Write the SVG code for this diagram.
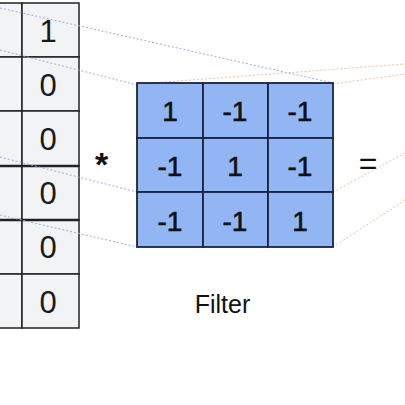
<svg xmlns="http://www.w3.org/2000/svg" width="405" height="405" viewBox="0 0 405 405">
<style>
.lc{fill:#f1f3f4;stroke:#222;stroke-width:1.5}
.fc{fill:#92b6f4;stroke:#1a2440;stroke-width:1.8}
.n{font-family:"Liberation Sans",Arial,sans-serif;font-size:31px;fill:#1a1a1a;text-anchor:middle}
.f{font-family:"Liberation Sans",Arial,sans-serif;font-size:28px;fill:#111;text-anchor:middle;stroke:#111;stroke-width:0.6}
.t{font-family:"Liberation Sans",Arial,sans-serif;fill:#111;text-anchor:middle}
.bl{stroke:#98afe4;stroke-width:1;stroke-dasharray:2 2;fill:none}
.or{stroke:#f1bf9a;stroke-width:1;stroke-dasharray:2 2;fill:none}
</style>
<rect width="405" height="405" fill="#fff"/>
<g id="input">
<rect class="lc" x="-10" y="3" width="32" height="54"/>
<rect class="lc" x="-10" y="57" width="32" height="54"/>
<rect class="lc" x="-10" y="111" width="32" height="55"/>
<rect class="lc" x="-10" y="166" width="32" height="54"/>
<rect class="lc" x="-10" y="220" width="32" height="54"/>
<rect class="lc" x="-10" y="274" width="32" height="54"/>
<rect class="lc" x="22" y="3" width="57" height="54"/>
<rect class="lc" x="22" y="57" width="57" height="54"/>
<rect class="lc" x="22" y="111" width="57" height="55"/>
<rect class="lc" x="22" y="166" width="57" height="54"/>
<rect class="lc" x="22" y="220" width="57" height="54"/>
<rect class="lc" x="22" y="274" width="57" height="54"/>
<line x1="0" y1="166" x2="79" y2="166" stroke="#222" stroke-width="2.5"/>
<line x1="0" y1="220" x2="79" y2="220" stroke="#222" stroke-width="2.5"/>
<text class="n" x="48" y="42">1</text>
<text class="n" x="48" y="96">0</text>
<text class="n" x="48" y="150">0</text>
<text class="n" x="48" y="204">0</text>
<text class="n" x="48" y="258">0</text>
<text class="n" x="48" y="313">0</text>
</g>
<g id="connectors">
<line class="bl" x1="0" y1="8" x2="333" y2="83"/>
<line class="bl" x1="0" y1="50" x2="137" y2="85"/>
<line class="bl" x1="0" y1="157" x2="137" y2="192"/>
<line class="bl" x1="0" y1="215" x2="137" y2="247"/>
<line class="or" x1="137" y1="84" x2="405" y2="64"/>
<line class="or" x1="333" y1="84" x2="405" y2="74"/>
<line class="or" x1="333" y1="192" x2="405" y2="153"/>
<line class="or" x1="333" y1="247" x2="405" y2="200"/>
</g>
<g id="filter">
<rect class="fc" x="137" y="83" width="66" height="55"/>
<rect class="fc" x="203" y="83" width="65" height="55"/>
<rect class="fc" x="268" y="83" width="65" height="55"/>
<rect class="fc" x="137" y="138" width="66" height="54"/>
<rect class="fc" x="203" y="138" width="65" height="54"/>
<rect class="fc" x="268" y="138" width="65" height="54"/>
<rect class="fc" x="137" y="192" width="66" height="55"/>
<rect class="fc" x="203" y="192" width="65" height="55"/>
<rect class="fc" x="268" y="192" width="65" height="55"/>
<text class="f" x="170" y="121">1</text>
<text class="f" x="235" y="121">-1</text>
<text class="f" x="300" y="121">-1</text>
<text class="f" x="170" y="176">-1</text>
<text class="f" x="235" y="176">1</text>
<text class="f" x="300" y="176">-1</text>
<text class="f" x="170" y="231">-1</text>
<text class="f" x="235" y="231">-1</text>
<text class="f" x="300" y="231">1</text>
</g>
<g id="labels">
<text class="t" x="101.5" y="176" font-size="34" font-weight="bold">*</text>
<text class="t" x="368" y="174" font-size="32">=</text>
<text class="t" x="222.5" y="313" font-size="25">Filter</text>
</g>
</svg>
